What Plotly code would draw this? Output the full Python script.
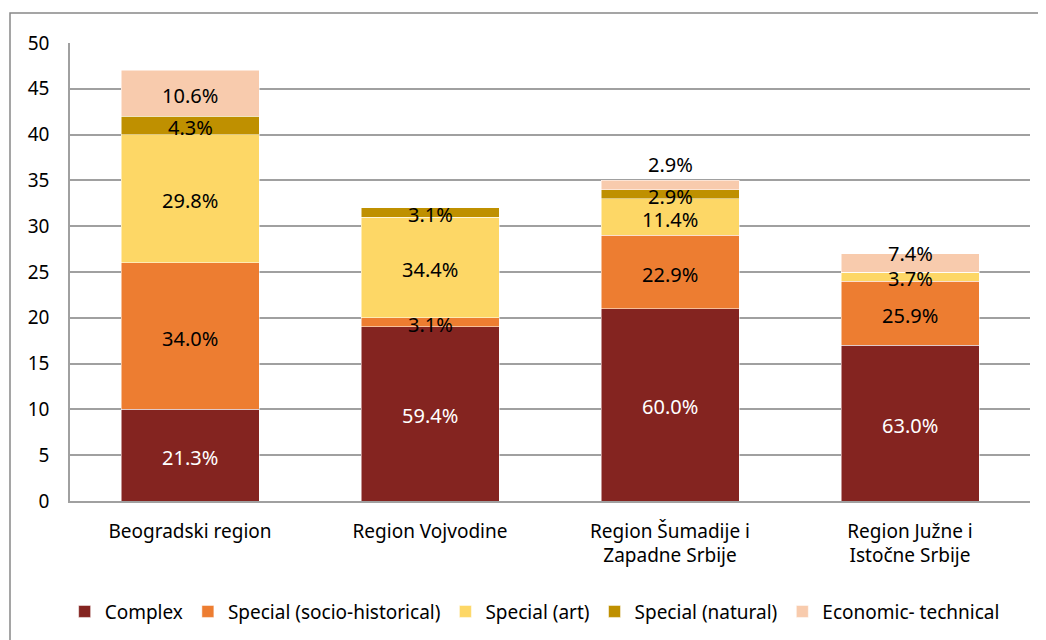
import plotly.graph_objects as go

# Number of institutions per region and type
regions = ["Beogradski region", "Region Vojvodine", "Region Šumadije i<br>Zapadne Srbije",
           "Region Južne i<br>Istočne Srbije"]
complex_ = [10, 19, 21, 17]
socio = [16, 1, 8, 7]
art = [14, 11, 4, 1]
natural = [2, 1, 1, 0]
economic = [5, 0, 1, 2]

series = [
    ("Complex", complex_, "#842420", "white"),
    ("Special (socio-historical)", socio, "#ED7D31", "black"),
    ("Special (art)", art, "#FDD766", "black"),
    ("Special (natural)", natural, "#BF9000", "black"),
    ("Economic- technical", economic, "#F8CBAD", "black"),
]

totals = [sum(s[1][i] for s in series) for i in range(len(regions))]

fig = go.Figure()
annotations = []
base = [0] * len(regions)
for name, vals, color, tcolor in series:
    fig.add_trace(go.Bar(
        name=name, x=regions, y=vals, marker=dict(color=color, line=dict(color="white", width=0.5)),
    ))
    for i, v in enumerate(vals):
        if v > 0:
            shift = -2
            # small top segments: Excel pushed the label up
            if name == "Economic- technical" and v / totals[i] < 0.05:
                shift = 20
            elif name == "Economic- technical" and v / totals[i] < 0.08:
                shift = 9
            annotations.append(dict(
                x=regions[i], y=base[i] + v / 2, text=f"{100 * v / totals[i]:.1f}%",
                showarrow=False, yshift=shift,
                font=dict(color=tcolor, size=20, family="Noto Sans"),
            ))
        base[i] += v

fig.update_layout(
    barmode="stack",
    bargap=0.425,
    width=1046, height=640,
    margin=dict(l=62, r=24, t=35, b=147),
    paper_bgcolor="white", plot_bgcolor="white",
    font=dict(family="Noto Sans", size=19, color="black"),
    annotations=annotations,
    legend=dict(orientation="h", x=0.484, xanchor="center", y=-0.2, yanchor="top",
                font=dict(size=19), itemwidth=30, traceorder="normal"),
    shapes=[dict(type="rect", xref="paper", yref="paper", x0=-0.0625, y0=-0.4,
                 x1=1.2, y1=1.0655, line=dict(color="#888888", width=1.5))],
)
fig.update_yaxes(range=[0, 50], dtick=5, showgrid=True, gridcolor="#A0A0A0", gridwidth=1.5,
                 showline=True, linecolor="#A0A0A0", linewidth=1.5, ticks="",
                 tickfont=dict(size=19), ticklabelstandoff=15, zeroline=False)
fig.update_xaxes(showline=True, linecolor="#A0A0A0", linewidth=1.5, ticks="",
                 tickfont=dict(size=19), ticklabelstandoff=12)

fig.write_html("out.html")
